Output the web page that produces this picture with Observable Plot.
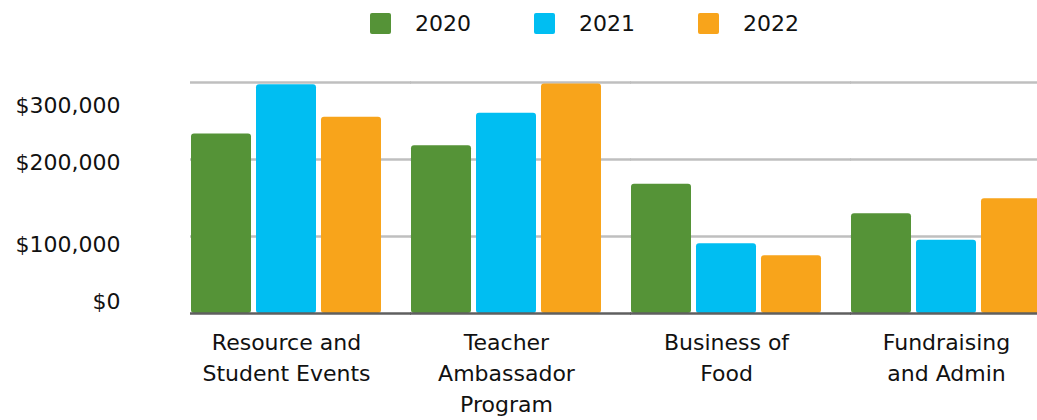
<!DOCTYPE html>
<html><head><meta charset="utf-8">
<script src="https://cdn.jsdelivr.net/npm/d3@7"></script>
<script src="https://cdn.jsdelivr.net/npm/@observablehq/plot@0.6"></script>
<style>
body{margin:0;background:#fff;overflow:hidden;font-family:"DejaVu Sans",sans-serif;}
#legend{display:flex;align-items:center;height:46px;padding-left:370px;box-sizing:border-box;font-size:22px;color:#111;}
.item{display:flex;align-items:center;width:164px}
.sw{width:21px;height:21px;border-radius:2px;margin-right:24px}
</style></head><body>
<div id="legend"></div><div id="chart"></div>
<script>
const categories = ["Resource and Student Events","Teacher Ambassador Program","Business of Food","Fundraising and Admin"];
const categoryLabels = ["Resource and\nStudent Events","Teacher\nAmbassador\nProgram","Business of\nFood","Fundraising\nand Admin"];
const years = ["2020","2021","2022"];
const values2020 = [233000, 218000, 168000, 129500];
const values2021 = [297000, 260000, 90500, 95000];
const values2022 = [255000, 298000, 75000, 149000];
const colors = ["#559337","#00BEF2","#F8A41B"];
const gridValues = [100000,200000,300000];
const tickLabels = ["$0","$100,000","$200,000","$300,000"];
const tickLabelValues = [15600, 89600, 196000, 269500];

const legend = document.getElementById("legend");
years.forEach((y,i)=>{
  const it = document.createElement("div"); it.className="item";
  const sw = document.createElement("div"); sw.className="sw"; sw.style.background=colors[i];
  const t = document.createElement("span"); t.textContent=y;
  it.appendChild(sw); it.appendChild(t); legend.appendChild(it);
});

const series = [values2020, values2021, values2022];
const data = [];
categories.forEach((c,i)=>series.forEach((arr,j)=>data.push({category:c, year:years[j], value:arr[i]})));

const plot = Plot.plot({
  width:1037, height:374, marginLeft:190, marginRight:-6, marginTop:36, marginBottom:107,
  style:{fontFamily:'"DejaVu Sans", sans-serif', fontSize:"22px", color:"#111", background:"white", overflow:"visible"},
  fx:{domain:categories, paddingInner:0.127, paddingOuter:0, label:null},
  x:{domain:years, paddingInner:0.07, paddingOuter:0, axis:null},
  y:{domain:[0,300000], axis:null},
  color:{domain:years, range:colors},
  marks:[
    Plot.ruleY(gridValues, {stroke:"#BFBFBF", strokeWidth:2.3, insetRight:-29}),
    Plot.barY(data, {fx:"category", x:"year", y:"value", fill:"year", rx:3}),
    Plot.ruleY([0], {stroke:"#5f5f5f", strokeWidth:2.5, insetRight:-29}),
    Plot.text(tickLabels, {y:tickLabelValues, text:d=>d, frameAnchor:"left", textAnchor:"end", dx:-70, fontSize:22, facetAnchor:"left"}),
    Plot.axisFx({anchor:"bottom", tickSize:0, tickPadding:14, tickFormat:d=>categoryLabels[categories.indexOf(d)], lineHeight:1.41, lineAnchor:"top", fontSize:22, label:null})
  ]
});
document.getElementById("chart").appendChild(plot);
</script>
</body></html>
